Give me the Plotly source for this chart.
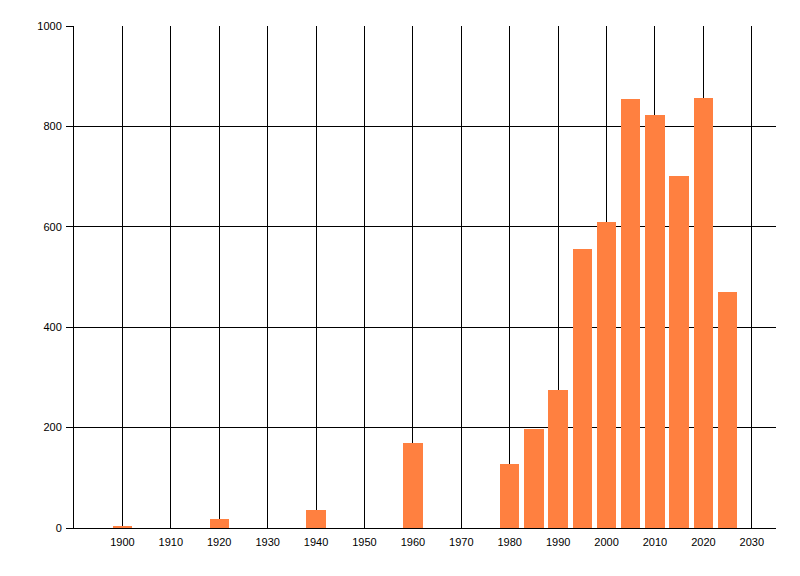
import plotly.graph_objects as go

years = [1900, 1920, 1940, 1960, 1980, 1985, 1990, 1995, 2000, 2005, 2010, 2015, 2020, 2025]
counts = [4, 18, 36, 170, 127, 197, 275, 556, 610, 855, 823, 702, 857, 471]
x_ticks = list(range(1900, 2031, 10))
y_ticks = [0, 200, 400, 600, 800, 1000]

fig = go.Figure()
fig.add_trace(go.Bar(
    x=years,
    y=counts,
    width=4,
    marker={'color': '#FF8040', 'line': {'width': 0}},
))

# page body has an 8px margin, so the figure is shrunk by that much
fig.update_layout(
    width=792,
    height=568,
    margin={'l': 66, 'r': 24, 't': 18, 'b': 48},
    paper_bgcolor='white',
    plot_bgcolor='white',
    showlegend=False,
    font={'family': 'Liberation Sans, Arial, sans-serif', 'size': 11, 'color': 'black'},
    bargap=0,
)
fig.update_xaxes(
    range=[1890, 2035],
    tickvals=x_ticks,
    showgrid=True,
    gridcolor='black',
    gridwidth=1,
    showline=True,
    linecolor='black',
    linewidth=1,
    zeroline=False,
    ticks='',
    ticklabelstandoff=4,
)
fig.update_yaxes(
    range=[0, 1000],
    tickvals=y_ticks,
    showgrid=True,
    gridcolor='black',
    gridwidth=1,
    showline=True,
    linecolor='black',
    linewidth=1,
    zeroline=False,
    ticks='outside',
    ticklen=7,
    tickcolor='black',
    ticklabelstandoff=2,
)

fig.write_html("out.html")
